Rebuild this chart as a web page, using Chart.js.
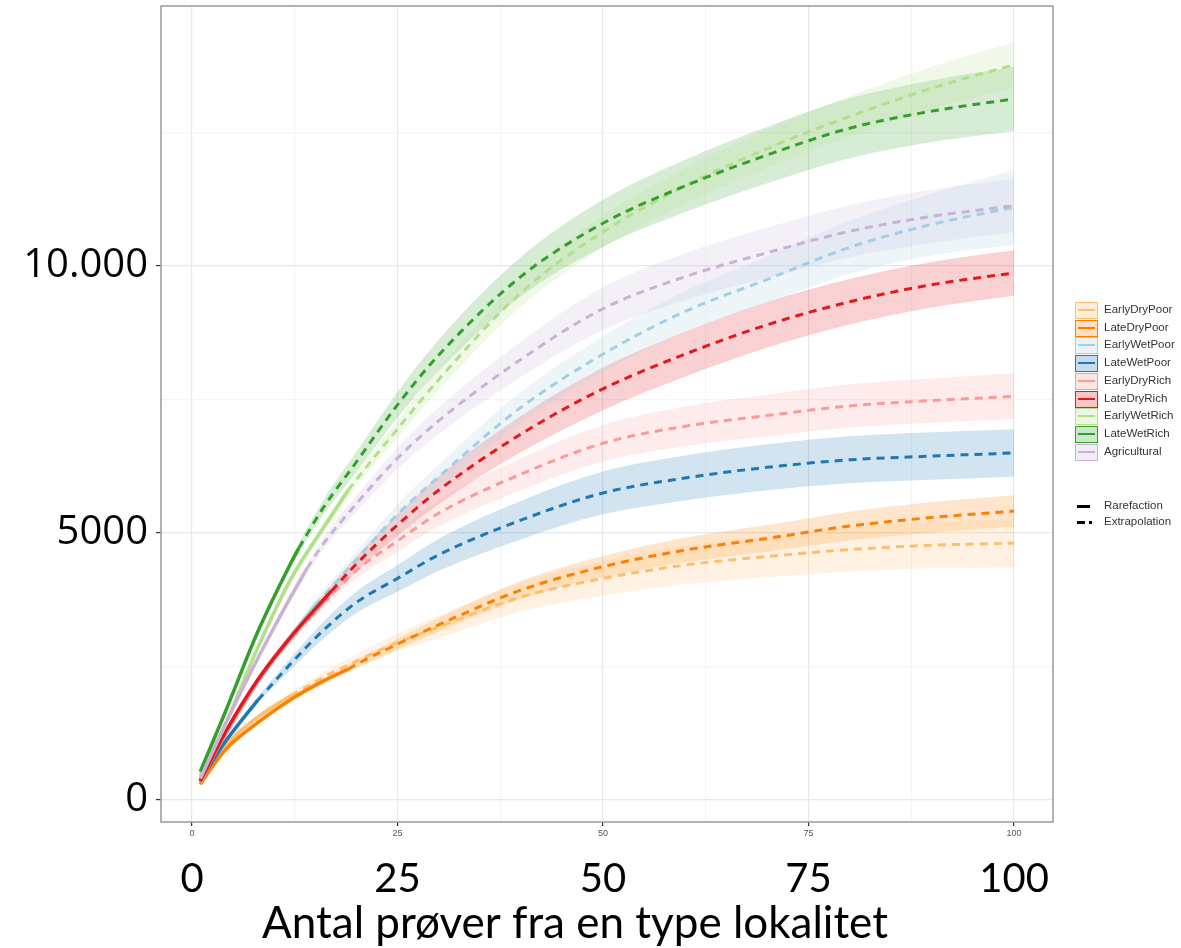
<!DOCTYPE html>
<html>
<head>
<meta charset="utf-8">
<script src="https://cdn.jsdelivr.net/npm/chart.js@4.4.0/dist/chart.umd.min.js"></script>
<style>
  html, body { margin: 0; padding: 0; background: #fff; overflow: hidden; }
  #wrap { position: relative; width: 1181px; height: 948px; }
  #legend { position: absolute; left: 1075px; top: 302px; font-family: 'Liberation Sans', Arial, sans-serif; font-size: 11.5px; color: #333; white-space: nowrap; }
  .row { position: absolute; left: 0; height: 17px; width: 120px; }
  .key { position: absolute; left: 0; top: 0; width: 21px; height: 15px; border: 1px solid; }
  .key i { position: absolute; left: 2px; right: 2px; top: 6px; height: 2px; }
  .lbl { position: absolute; left: 29px; top: 1px; }
  .lt { position: absolute; left: 2px; top: 7px; height: 3px; background: #000; }
</style>
</head>
<body>
<div id="wrap">
  <canvas id="chart" width="1181" height="948"></canvas>
  <div id="legend"></div>
</div>
<script>
// Data
const groups = ['EarlyDryPoor', 'LateDryPoor', 'EarlyWetPoor', 'LateWetPoor', 'EarlyDryRich', 'LateDryRich', 'EarlyWetRich', 'LateWetRich', 'Agricultural'];
const lineColors = ['#fdbf6f', '#ff7f00', '#a6cee3', '#1f78b4', '#fb9a99', '#e31a1c', '#b2df8a', '#33a02c', '#cab2d6'];

const samplePoints = [1, 4, 8, 12, 16, 20, 25, 30, 40, 50, 60, 70, 80, 90, 100];
const observedN = [12, 19, 15, 8, 16, 17, 19, 13, 14];
const observedS = [1950, 2450, 3650, 1870, 3700, 3920, 5800, 4720, 4340];

const richness = [
	[290, 1000, 1550, 1950, 2300, 2600, 2950, 3240, 3800, 4150, 4400, 4560, 4690, 4770, 4810],
	[300, 930, 1450, 1880, 2230, 2540, 2920, 3280, 3930, 4370, 4680, 4900, 5130, 5290, 5410],
	[330, 1200, 2200, 3050, 3820, 4500, 5350, 6050, 7350, 8350, 9150, 9750, 10350, 10780, 11100],
	[370, 1080, 1870, 2550, 3180, 3700, 4150, 4590, 5240, 5750, 6030, 6230, 6370, 6440, 6500],
	[340, 1230, 2230, 3020, 3700, 4300, 4850, 5370, 6100, 6680, 7000, 7200, 7380, 7480, 7560],
	[350, 1250, 2250, 3050, 3750, 4420, 5150, 5800, 6850, 7700, 8350, 8900, 9330, 9650, 9870],
	[450, 1400, 2850, 4130, 5100, 6000, 6950, 7870, 9500, 10640, 11500, 12200, 12800, 13330, 13770],
	[530, 1630, 3150, 4430, 5480, 6330, 7400, 8330, 9800, 10800, 11500, 12080, 12580, 12900, 13130],
	[400, 1400, 2650, 3800, 4800, 5550, 6400, 7100, 8250, 9200, 9800, 10250, 10650, 10930, 11130]
];
const lowerCI = [
	[270, 960, 1490, 1880, 2200, 2470, 2780, 3030, 3530, 3830, 4040, 4170, 4280, 4340, 4360],
	[280, 900, 1410, 1830, 2170, 2470, 2820, 3150, 3760, 4170, 4450, 4650, 4860, 5005, 5115],
	[310, 1150, 2130, 2960, 3700, 4350, 5160, 5820, 7060, 8020, 8770, 9320, 9850, 10200, 10400],
	[350, 1040, 1810, 2440, 3020, 3500, 3900, 4290, 4880, 5350, 5610, 5800, 5930, 5995, 6055],
	[320, 1190, 2170, 2940, 3600, 4150, 4650, 5120, 5800, 6340, 6630, 6810, 6975, 7065, 7135],
	[330, 1210, 2190, 2970, 3650, 4280, 4950, 5540, 6510, 7300, 7930, 8475, 8905, 9225, 9445],
	[430, 1360, 2790, 4050, 5000, 5880, 6790, 7670, 9240, 10340, 11170, 11840, 12420, 12930, 13350],
	[510, 1590, 3090, 4350, 5340, 6140, 7160, 8040, 9430, 10360, 11010, 11550, 12020, 12320, 12530],
	[380, 1360, 2590, 3720, 4690, 5400, 6200, 6850, 7920, 8800, 9360, 9780, 10160, 10430, 10630]
];
const upperCI = [
	[310, 1040, 1610, 2020, 2400, 2730, 3120, 3450, 4070, 4470, 4760, 4950, 5100, 5200, 5260],
	[320, 960, 1490, 1930, 2290, 2610, 3020, 3410, 4100, 4570, 4910, 5150, 5400, 5575, 5705],
	[350, 1250, 2270, 3140, 3940, 4650, 5540, 6280, 7640, 8680, 9530, 10180, 10850, 11360, 11800],
	[390, 1120, 1930, 2660, 3340, 3900, 4400, 4890, 5600, 6150, 6450, 6660, 6810, 6885, 6945],
	[360, 1270, 2290, 3100, 3800, 4450, 5050, 5620, 6400, 7020, 7370, 7590, 7785, 7895, 7985],
	[370, 1290, 2310, 3130, 3850, 4560, 5350, 6060, 7190, 8100, 8770, 9325, 9755, 10075, 10295],
	[470, 1440, 2910, 4210, 5200, 6120, 7110, 8070, 9760, 10940, 11830, 12560, 13180, 13730, 14190],
	[550, 1670, 3210, 4510, 5620, 6520, 7640, 8620, 10170, 11240, 11990, 12610, 13140, 13480, 13730],
	[420, 1440, 2710, 3880, 4910, 5700, 6600, 7350, 8580, 9600, 10240, 10720, 11140, 11430, 11630]
];

const xGridTicks = [0, 12.5, 25, 37.5, 50, 62.5, 75, 87.5, 100];
const xTicks = [0, 25, 50, 75, 100];
const yGridTicks = [0, 2500, 5000, 7500, 10000, 12500];
const yTicks = [0, 5000, 10000];
const yTickText = ['0', '5000', '10.000'];
const xTitle = 'Antal prøver fra en type lokalitet';

function rgba(hex, a) {
	const n = parseInt(hex.slice(1), 16);
	return 'rgba(' + (n >> 16) + ',' + ((n >> 8) & 255) + ',' + (n & 255) + ',' + a + ')';
}

const datasets = [];

// confidence bands (lower line, then upper filled down to it)
groups.forEach(function(g, i) {
	const band = {
		pointRadius: 0,
		borderWidth: 0,
		cubicInterpolationMode: 'monotone',
		order: 10
	};
	datasets.push(Object.assign({}, band, {
		label: g + ' lower',
		data: samplePoints.map((x, j) => ({ x: x, y: lowerCI[i][j] })),
		fill: false
	}));
	datasets.push(Object.assign({}, band, {
		label: g + ' upper',
		data: samplePoints.map((x, j) => ({ x: x, y: upperCI[i][j] })),
		fill: '-1',
		backgroundColor: rgba(lineColors[i], 0.2)
	}));
});

// rarefaction (solid) and extrapolation (dashed)
groups.forEach(function(g, i) {
	const n = observedN[i];
	const obs = { x: n, y: observedS[i] };
	const pts = samplePoints.map((x, j) => ({ x: x, y: richness[i][j] }));
	const rare = pts.filter(p => p.x < n).concat([obs]);
	const extra = [obs].concat(pts.filter(p => p.x > n));
	const line = {
		borderColor: lineColors[i],
		pointRadius: 0,
		fill: false,
		cubicInterpolationMode: 'monotone',
		order: 9 - i
	};
	datasets.push(Object.assign({}, line, { label: g, data: rare, borderWidth: 3.5 }));
	datasets.push(Object.assign({}, line, { label: g + ' extrapolation', data: extra, borderWidth: 3, borderDash: [8, 6] }));
});

const panelBorder = {
	id: 'panelBorder',
	afterDraw(chart) {
		const a = chart.chartArea;
		const ctx = chart.ctx;
		ctx.save();
		ctx.strokeStyle = '#9a9a9a';
		ctx.lineWidth = 1.5;
		ctx.strokeRect(a.left, a.top, a.right - a.left, a.bottom - a.top);
		// x axis title, placed where it sits in the original figure
		ctx.fillStyle = '#000';
		ctx.font = '44px Lato';
		ctx.textAlign = 'center';
		ctx.textBaseline = 'middle';
		ctx.fillText(xTitle, 575, 924);
		ctx.restore();
	}
};

const isMajorX = v => v % 25 === 0;
const isMajorY = v => v % 5000 === 0;

new Chart(document.getElementById('chart').getContext('2d'), {
	type: 'line',
	data: { datasets: datasets },
	options: {
		responsive: false,
		animation: false,
		events: [],
		layout: { padding: { left: 0, right: 128, top: 6, bottom: 0 } },
		plugins: {
			legend: { display: false },
			tooltip: { enabled: false }
		},
		scales: {
			x: {
				type: 'linear',
				position: 'bottom',
				min: -3.77,
				max: 104.74,
				afterBuildTicks: s => { s.ticks = xGridTicks.map(v => ({ value: v })); },
				afterFit: s => { s.height = 20; },
				border: { display: false },
				grid: {
					color: ctx => isMajorX(ctx.tick.value) ? '#e8e8e8' : '#f4f4f4',
					tickColor: ctx => isMajorX(ctx.tick.value) ? '#333' : 'rgba(0,0,0,0)',
					tickLength: 4,
					lineWidth: 1.2
				},
				ticks: {
					autoSkip: false,
					maxRotation: 0,
					padding: 2,
					color: '#555',
					font: { family: 'Liberation Sans', size: 9 },
					callback: v => isMajorX(v) ? String(v) : ''
				}
			},
			x2: {
				type: 'linear',
				position: 'bottom',
				weight: 1,
				min: -3.77,
				max: 104.74,
				afterBuildTicks: s => { s.ticks = xTicks.map(v => ({ value: v })); },
				afterFit: s => { s.height = 106; },
				border: { display: false },
				grid: { display: false },
				ticks: {
					autoSkip: false,
					maxRotation: 0,
					padding: 9,
					color: '#000',
					font: { family: 'Lato', size: 40, lineHeight: 1 }
				}
			},
			y: {
				type: 'linear',
				min: -412,
				max: 14869,
				afterBuildTicks: s => { s.ticks = yGridTicks.map(v => ({ value: v })); },
				afterFit: s => { s.width = 161; s.paddingTop = 0; s.paddingBottom = 0; },
				border: { display: false },
				grid: {
					color: ctx => isMajorY(ctx.tick.value) ? '#e8e8e8' : '#f4f4f4',
					tickColor: ctx => isMajorY(ctx.tick.value) ? '#333' : 'rgba(0,0,0,0)',
					tickLength: 5,
					lineWidth: 1.2
				},
				ticks: {
					autoSkip: false,
					padding: 8,
					color: '#000',
					font: { family: 'Open Sans', size: 40, lineHeight: 0.25 },
					callback: v => {
						const k = yTicks.indexOf(v);
						return k >= 0 ? yTickText[k] : '';
					}
				}
			}
		}
	},
	plugins: [panelBorder]
});

// ggplot-style legend
const legend = document.getElementById('legend');
groups.forEach(function(g, i) {
	const row = document.createElement('div');
	row.className = 'row';
	row.style.top = (i * 17.7) + 'px';
	row.innerHTML = '<div class="key" style="border-color:' + lineColors[i] + ';background:' + rgba(lineColors[i], 0.25) +
		'"><i style="background:' + lineColors[i] + '"></i></div><span class="lbl">' + g + '</span>';
	legend.appendChild(row);
});
const linetypes = ['Rarefaction', 'Extrapolation'];
linetypes.forEach(function(t, k) {
	const row = document.createElement('div');
	row.className = 'row';
	row.style.top = (196 + k * 16) + 'px';
	const sample = k === 0
		? '<span class="lt" style="width:13px"></span>'
		: '<span class="lt" style="width:8px"></span><span class="lt" style="left:14px;width:3px"></span>';
	row.innerHTML = sample + '<span class="lbl">' + t + '</span>';
	legend.appendChild(row);
});
</script>
</body>
</html>
